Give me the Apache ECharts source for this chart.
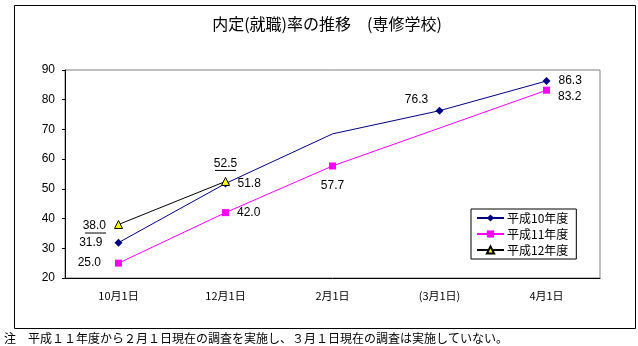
<!DOCTYPE html>
<html><head><meta charset="utf-8">
<script src="https://cdn.jsdelivr.net/npm/echarts@6/dist/echarts.min.js"></script>
<style>html,body{margin:0;padding:0;background:#fff}#c{width:638px;height:346px}</style>
</head><body><div id="c"></div>
<script>
const categories = ['10月1日', '12月1日', '2月1日', '(3月1日)', '4月1日'];
const seriesNames = ['平成10年度', '平成11年度', '平成12年度'];
const h10 = [31.9, 51.8, 68.5, 76.3, 86.3];
const h11 = [25.0, 42.0, 57.7, null, 83.2];
const h12 = [38.0, 52.5, null, null, null];
const yTicks = [20, 30, 40, 50, 60, 70, 80, 90];
const titleText = '内定(就職)率の推移　(専修学校)';
const noteText = '注　平成１１年度から２月１日現在の調査を実施し、３月１日現在の調査は実施していない。';

const FONT = '"Noto Sans CJK JP", "Liberation Sans", sans-serif';
const NUMFONT = '"Liberation Sans", Arial, sans-serif';
const lblBase = {show: true, color: '#000', fontSize: 12, fontFamily: NUMFONT, formatter: p => p.value.toFixed(1)};

// label layout per point (style only)
const h10Labels = [
  {position: 'left', distance: 12},
  {position: 'right', distance: 8},
  null,
  {position: 'inside', offset: [-23, -11]},
  {position: 'right', distance: 8}
];
const h11Labels = [
  {position: 'left', distance: 14},
  {position: 'right', distance: 8},
  {position: 'bottom', distance: 10},
  null,
  {position: 'right', distance: 8, offset: [0, 6]}
];
const underlineRich = {
  v: {fontSize: 12, fontFamily: NUMFONT, color: '#000', lineHeight: 13},
  u: {width: 21, height: 1, backgroundColor: '#000', fontSize: 1, lineHeight: 1}
};
const h12Labels = [
  {position: 'left', distance: 8, offset: [0, 2]},
  {position: 'top', distance: 6}
];

function build(values, labels, underline) {
  return values.map((v, i) => {
    if (v === null) return null;
    const lab = labels[i];
    if (!lab) return {value: v, symbol: 'none', label: {show: false}};
    const l = Object.assign({}, lblBase, lab);
    if (underline) {
      l.formatter = p => '{v|' + p.value.toFixed(1) + '}\n{u| }';
      l.rich = underlineRich;
    }
    return {value: v, label: l};
  });
}

const chart = echarts.init(document.getElementById('c'), null, {renderer: 'canvas'});
chart.setOption({
  animation: false,
  backgroundColor: '#fff',
  title: {
    text: titleText, left: 322, textAlign: 'center', top: 11,
    textStyle: {fontSize: 16, fontWeight: 'normal', color: '#000', fontFamily: FONT}
  },
  grid: {left: 65, right: 38, top: 70, bottom: 68, show: true, borderColor: '#808080', borderWidth: 1},
  legend: {
    orient: 'vertical', left: 471, top: 209, width: 104,
    data: seriesNames,
    borderColor: '#000', borderWidth: 1, padding: [3, 8, 3, 5],
    itemWidth: 27, itemHeight: 9, itemGap: 4,
    textStyle: {fontSize: 12, color: '#000', fontFamily: FONT, padding: [0, 0, 0, -2]}
  },
  xAxis: {
    type: 'category', data: categories, boundaryGap: true,
    axisLine: {lineStyle: {color: '#000'}},
    axisTick: {show: false},
    axisLabel: {color: '#000', fontSize: 11, fontFamily: FONT, margin: 12},
    splitLine: {show: false}
  },
  yAxis: {
    type: 'value', min: yTicks[0], max: yTicks[yTicks.length - 1], interval: 10,
    axisLine: {show: true, lineStyle: {color: '#000'}},
    axisTick: {show: true, length: 3, lineStyle: {color: '#000'}},
    axisLabel: {color: '#000', fontSize: 12, fontFamily: NUMFONT, margin: 10},
    splitLine: {show: false}
  },
  series: [
    {
      name: seriesNames[0], type: 'line', data: build(h10, h10Labels, false),
      symbol: 'diamond', symbolSize: 8, z: 3,
      lineStyle: {color: '#000080', width: 1}, itemStyle: {color: '#000080'}
    },
    {
      name: seriesNames[1], type: 'line', data: build(h11, h11Labels, false), connectNulls: true,
      symbol: 'rect', symbolSize: 7, z: 2,
      lineStyle: {color: '#ff00ff', width: 1}, itemStyle: {color: '#ff00ff'}
    },
    {
      name: seriesNames[2], type: 'line', data: build(h12, h12Labels, true),
      symbol: 'triangle', symbolSize: 8, z: 4,
      lineStyle: {color: '#000', width: 1}, itemStyle: {color: '#ffff00', borderColor: '#000', borderWidth: 1}
    }
  ],
  graphic: [
    {type: 'rect', left: 12, top: 3, shape: {width: 621, height: 323}, style: {fill: 'none', stroke: '#000', lineWidth: 1}, silent: true, z: -1},
    {type: 'text', left: 4, top: 332, style: {text: noteText, fontSize: 12, fill: '#000', fontFamily: FONT}}
  ]
});
</script></body></html>
